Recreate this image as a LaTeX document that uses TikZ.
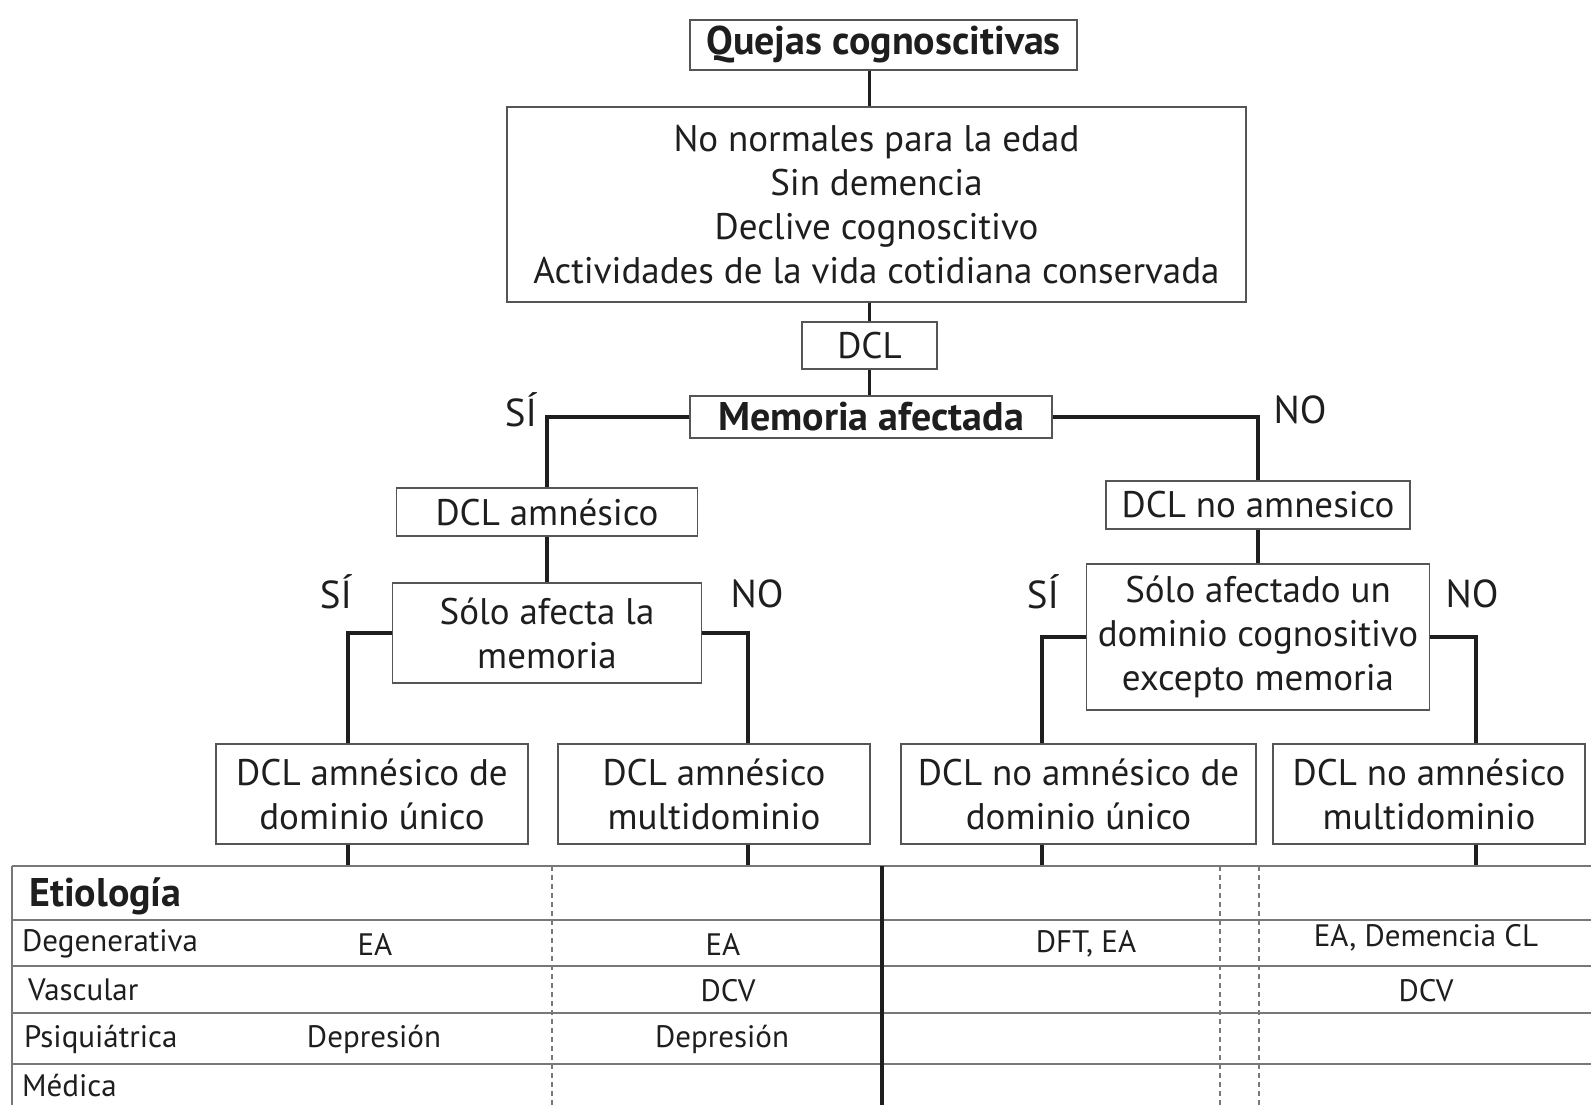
\documentclass[tikz,border=0pt]{standalone}
\usepackage{fontspec}
\setmainfont{PT Sans}
\definecolor{ink}{RGB}{30,30,30}
\definecolor{boxgray}{RGB}{85,85,85}
\definecolor{rulegray}{RGB}{120,120,120}
\begin{document}
\begin{tikzpicture}[x=1pt,y=-1pt,
  box/.style={draw=boxgray, line width=1.8pt, fill=white, align=center,
    inner sep=0pt, text=ink, font=\fontsize{37}{44}\selectfont},
  boldbox/.style={box, font=\fontsize{40}{44}\selectfont\bfseries},
  link/.style={draw=ink, line width=3.6pt},
  lbl/.style={text=ink, inner sep=0pt, font=\fontsize{39}{40}\selectfont},
  cell/.style={text=ink, inner sep=0pt, font=\fontsize{31}{34}\selectfont},
  rowhead/.style={cell, anchor=west},
  hrule/.style={draw=rulegray, line width=1.8pt},
  dashrule/.style={draw=rulegray, line width=1.2pt, dash pattern=on 5pt off 4pt},
  splitrule/.style={draw=ink, line width=3.4pt}]
\useasboundingbox (0,0) rectangle (1591,1105);

% --- decision tree ---
\node[boldbox, minimum width=387pt, minimum height=50pt] (q) at (883.5,45) {Quejas cognoscitivas};
\node[box, minimum width=739pt, minimum height=195pt] (crit) at (876.5,204.5)
  {No normales para la edad\\Sin demencia\\Declive cognoscitivo\\Actividades de la vida cotidiana conservada};
\node[box, minimum width=135pt, minimum height=47pt] (dcl) at (869.5,345.5) {DCL};
\node[boldbox, minimum width=362pt, minimum height=42pt] (mem) at (871,417) {Memoria afectada};

\node[box, minimum width=301pt, minimum height=48pt] (amn) at (547,512) {DCL amnésico};
\node[box, minimum width=304pt, minimum height=48pt] (namn) at (1258,505) {DCL no amnesico};

\node[box, minimum width=309pt, minimum height=100pt] (solo) at (547,633) {Sólo afecta la\\memoria};
\node[box, minimum width=343pt, minimum height=146pt] (solo2) at (1258,637)
  {Sólo afectado un\\dominio cognositivo\\excepto memoria};

\node[box, minimum width=312pt, minimum height=100pt] (b1) at (372,794) {DCL amnésico de\\dominio único};
\node[box, minimum width=312pt, minimum height=100pt] (b2) at (714,794) {DCL amnésico\\multidominio};
\node[box, minimum width=355pt, minimum height=100pt] (b3) at (1078.5,794) {DCL no amnésico de\\dominio único};
\node[box, minimum width=312pt, minimum height=100pt] (b4) at (1429,794) {DCL no amnésico\\multidominio};

% branch labels
\node[lbl] (si1) at (521,410) {SÍ};
\node[lbl] (no1) at (1300,410) {NO};
\node[lbl] (si2) at (336,592) {SÍ};
\node[lbl] (no2) at (757,594) {NO};
\node[lbl] (si3) at (1043,592) {SÍ};
\node[lbl] (no3) at (1472,594) {NO};

% branch columns, ending on the top rule of the table
\coordinate (c1) at (348,866);
\coordinate (c2) at (748,866);
\coordinate (c3) at (1042,866);
\coordinate (c4) at (1476,866);

\draw[link] (q.south -| dcl) -- (crit.north -| dcl);
\draw[link] (crit.south -| dcl) -- (dcl.north);
\draw[link] (dcl.south) -- (mem.north -| dcl);
\draw[link] (mem.west) -| (amn.north);
\draw[link] (mem.east) -| (namn.north);
\draw[link] (amn.south) -- (solo.north);
\draw[link] (namn.south) -- (solo2.north);
\draw[link] (solo.west) -| (b1.north -| c1);
\draw[link] (solo.east) -| (b2.north -| c2);
\draw[link] (solo2.west) -| (b3.north -| c3);
\draw[link] (solo2.east) -| (b4.north -| c4);
\draw[link] (b1.south -| c1) -- (c1);
\draw[link] (b2.south -| c2) -- (c2);
\draw[link] (b3.south -| c3) -- (c3);
\draw[link] (b4.south -| c4) -- (c4);

% --- etiology table ---
\foreach \yy in {866,920,966,1013,1064}
  \draw[hrule] (12,\yy) -- (1591,\yy);
\draw[hrule] (12,866) -- (12,1105);
\foreach \xx in {552,1220,1259}
  \draw[dashrule] (\xx,866) -- (\xx,1105);
\draw[splitrule] (882,866) -- (882,1105);

\node[rowhead, font=\fontsize{40}{44}\selectfont\bfseries] (t0) at (29,896) {Etiología};
\node[rowhead] (t1) at (22,944) {Degenerativa};
\node[rowhead] (t2) at (28,990) {Vascular};
\node[rowhead] (t3) at (24,1039) {Psiquiátrica};
\node[rowhead] (t4) at (22,1086) {Médica};

\node[cell] (e11) at (375,944) {EA};
\node[cell] (e12) at (723,944) {EA};
\node[cell] (e13) at (1086,944) {DFT, EA};
\node[cell] (e14) at (1426,938) {EA, Demencia CL};
\node[cell] (e22) at (728,991) {DCV};
\node[cell] (e24) at (1426,991) {DCV};
\node[cell] (e31) at (374,1039) {Depresión};
\node[cell] (e32) at (722,1039) {Depresión};
\end{tikzpicture}
\end{document}
